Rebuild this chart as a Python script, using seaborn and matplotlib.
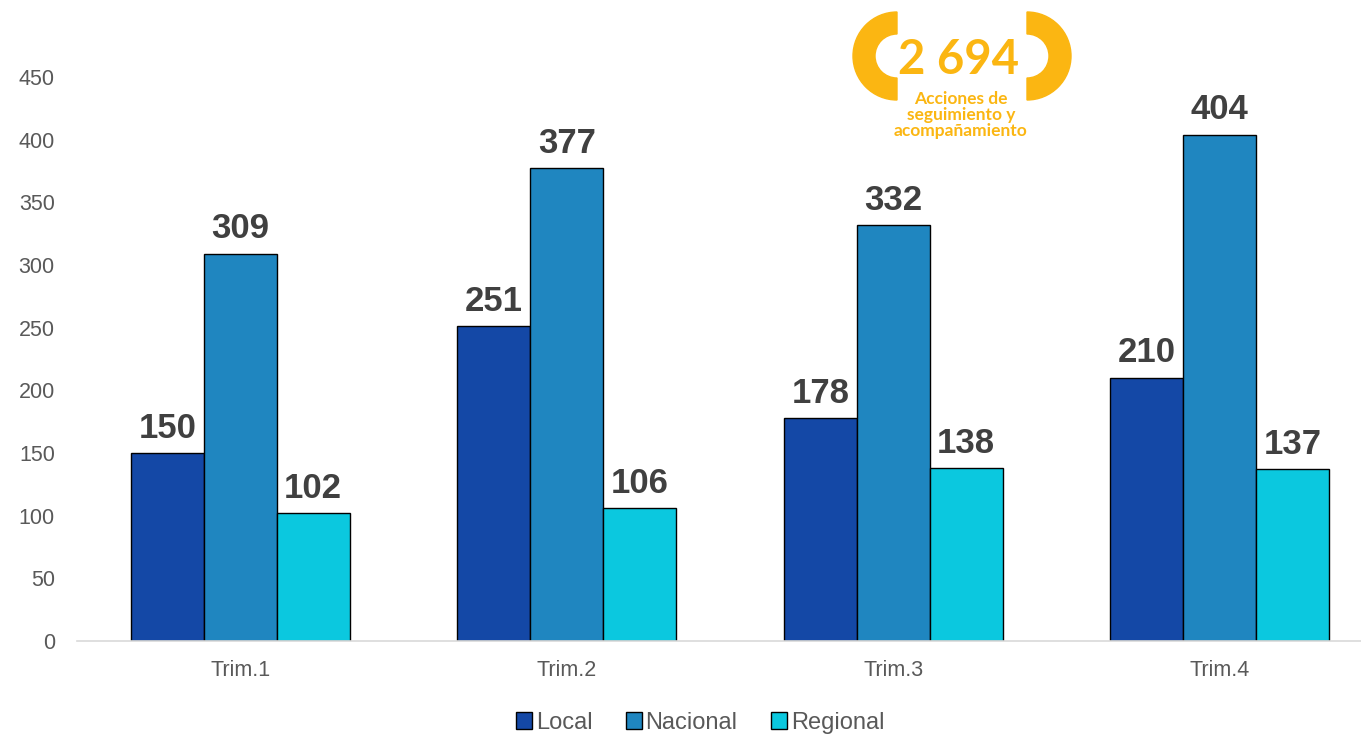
import matplotlib
matplotlib.use("Agg")
import matplotlib.pyplot as plt
from matplotlib.patches import Wedge
import pandas as pd
import seaborn as sns

# Data
quarters = ["Trim.1", "Trim.2", "Trim.3", "Trim.4"]
series_names = ["Local", "Nacional", "Regional"]
local_vals = [150, 251, 178, 210]
nacional_vals = [309, 377, 332, 404]
regional_vals = [102, 106, 138, 137]
yticks = [0, 50, 100, 150, 200, 250, 300, 350, 400, 450]
badge_total = "2 694"
badge_lines = ["Acciones de", "seguimiento y", "acompañamiento"]

COLORS = ["#1448A6", "#1F86C0", "#0BC8DF"]
BADGE = "#FBB612"

df = pd.DataFrame({
    "quarter": quarters * 3,
    "serie": [s for s in series_names for _ in quarters],
    "value": local_vals + nacional_vals + regional_vals,
})

sns.set_theme(style="white")
plt.rcParams["font.family"] = ["Liberation Sans", "DejaVu Sans"]

W, H = 1361, 735
fig = plt.figure(figsize=(W / 100, H / 100), dpi=100)
ax = fig.add_axes([77 / W, (H - 641) / H, (W - 77) / W, (641 - 77) / H])

sns.barplot(
    data=df, x="quarter", y="value", hue="serie", order=quarters,
    hue_order=series_names, palette=COLORS, saturation=1, width=0.67,
    edgecolor="black", linewidth=1.0, ax=ax, legend=True,
)

for cont in ax.containers:
    ax.bar_label(cont, fmt="%d", padding=6, fontsize=25, fontweight="bold", color="#404040")

ax.set_ylim(0, 450)
ax.set_xlim(-0.5, 3.433)
ax.set_yticks(yticks)
ax.set_xlabel("")
ax.set_ylabel("")
ax.tick_params(axis="y", labelsize=15.5, labelcolor="#595959", pad=16, length=0)
ax.tick_params(axis="x", labelsize=15.5, labelcolor="#595959", pad=14, length=0)
for side in ["top", "right", "left"]:
    ax.spines[side].set_visible(False)
ax.spines["bottom"].set_color("#D9D9D9")
ax.spines["bottom"].set_linewidth(1.2)

handles, labels = ax.get_legend_handles_labels()
ax.legend_.remove()
fig.legend(handles, labels, loc="center", bbox_to_anchor=(700 / W, 1 - 723 / H),
           ncol=3, frameon=False, fontsize=17, handlelength=0.7, handleheight=0.7,
           handletextpad=0.15, columnspacing=1.4, labelcolor="#595959")


# Badge in the top area, positions given in pixels from the top-left corner
def px(x, y):
    return (x / W, 1 - y / H)


for cx, t1, t2 in [(897, 90, 270), (1027, -90, 90)]:
    wedge = Wedge((cx / 100, (H - 56) / 100), 0.44, t1, t2, width=0.22,
                  color=BADGE, transform=fig.dpi_scale_trans)
    fig.patches.append(wedge)

fig.text(*px(959, 60), badge_total, ha="center", va="center", fontsize=34,
         color=BADGE, fontweight="bold", family=["Lato", "DejaVu Sans"])
for i, line in enumerate(badge_lines):
    fig.text(*px(961, 99 + 16 * i), line, ha="center", va="center", fontsize=12.5,
             color=BADGE, fontweight="bold", family=["Lato", "DejaVu Sans"])

fig.savefig("out.png", dpi=100)
